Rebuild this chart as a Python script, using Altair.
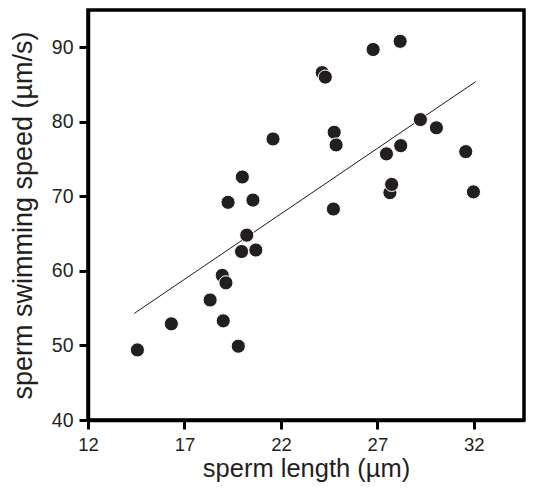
import altair as alt
import pandas as pd

# sperm length (µm) and swimming speed (µm/s)
length = [14.56, 16.32, 18.33, 19.01, 18.96, 19.15, 19.79, 19.26, 20.0, 19.96,
          20.23, 20.55, 20.7, 21.59, 24.14, 24.3, 24.76, 24.86, 24.72, 26.78,
          28.18, 27.47, 28.21, 27.65, 27.74, 29.23, 30.06, 31.58, 31.98]
speed = [49.4, 52.9, 56.1, 53.3, 59.4, 58.4, 49.9, 69.2, 72.6, 62.6,
         64.8, 69.5, 62.8, 77.7, 86.6, 86.0, 78.6, 76.9, 68.3, 89.7,
         90.8, 75.7, 76.8, 70.5, 71.6, 80.3, 79.2, 76.0, 70.6]

# fitted line end points
fit_x = [14.4, 32.1]
fit_y = [54.3, 85.4]

x_ticks = [12, 17, 22, 27, 32]
y_ticks = [40, 50, 60, 70, 80, 90]

pts = pd.DataFrame({"length": length, "speed": speed})
fit = pd.DataFrame({"length": fit_x, "speed": fit_y})

FONT = "Liberation Sans"
INK = "#231f20"

xscale = alt.Scale(domain=[12, 34.6], nice=False, zero=False)
yscale = alt.Scale(domain=[40, 95], nice=False, zero=False)

xaxis = alt.Axis(values=x_ticks, title="sperm length (µm)", grid=False,
                 domainColor="black", domainWidth=3.5, tickColor="black",
                 tickWidth=3, tickSize=9, labelPadding=6, labelFontSize=18.5,
                 labelFlush=False,
                 labelFont=FONT, labelColor=INK, titleFont=FONT,
                 titleFontSize=25.5, titleFontWeight="normal", titleColor=INK,
                 titlePadding=3)
yaxis = alt.Axis(values=y_ticks, title="sperm swimming speed (µm/s)", grid=False,
                 domainColor="black", domainWidth=3.5, tickColor="black",
                 tickWidth=3, tickSize=9, labelPadding=6, labelFontSize=19.5,
                 labelFlush=False,
                 labelFont=FONT, labelColor=INK, titleFont=FONT,
                 titleFontSize=27, titleFontWeight="normal", titleColor=INK,
                 titlePadding=14)

line = alt.Chart(fit).mark_line(color="black", strokeWidth=0.9).encode(
    x=alt.X("length:Q", scale=xscale, axis=xaxis),
    y=alt.Y("speed:Q", scale=yscale, axis=yaxis),
)

points = alt.Chart(pts).mark_circle(size=200, opacity=1, color=INK,
                                    stroke="white", strokeWidth=1).encode(
    x=alt.X("length:Q", scale=xscale, axis=xaxis),
    y=alt.Y("speed:Q", scale=yscale, axis=yaxis),
)

chart = alt.layer(line, points).properties(
    width=436, height=410,
    background="white",
    autosize=alt.AutoSizeParams(type="none"),
    padding={"left": 80, "top": 2, "right": 3, "bottom": 63},
).configure_view(stroke="black", strokeWidth=3.5)

chart.save("out.html", embed_options={"renderer": "svg", "actions": False})
